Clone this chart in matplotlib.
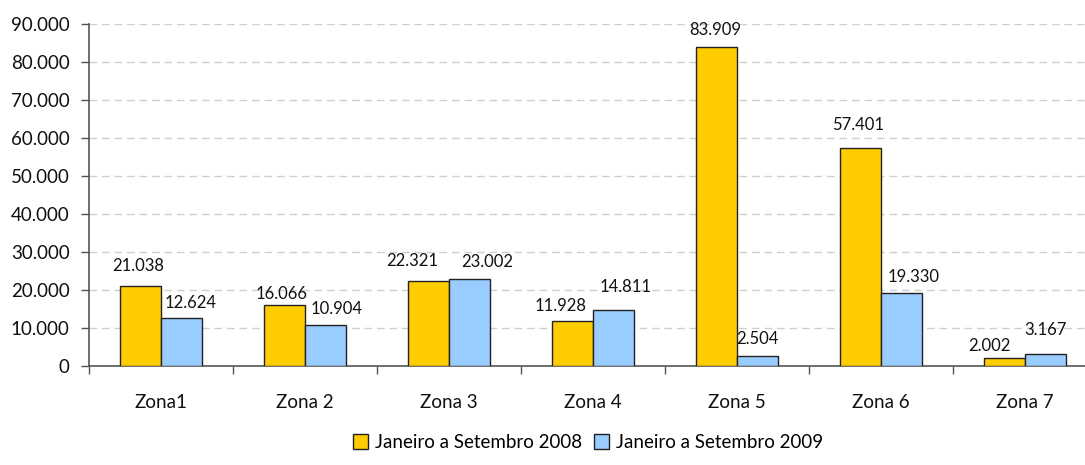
import matplotlib
matplotlib.use('Agg')
import matplotlib.pyplot as plt
import numpy as np
from matplotlib.ticker import FuncFormatter, FixedLocator

zonas = ['Zona1', 'Zona 2', 'Zona 3', 'Zona 4', 'Zona 5', 'Zona 6', 'Zona 7']
valores_2008 = [21038, 16066, 22321, 11928, 83909, 57401, 2002]
valores_2009 = [12624, 10904, 23002, 14811, 2504, 19330, 3167]
series = ['Janeiro a Setembro 2008', 'Janeiro a Setembro 2009']

# desplazamiento manual de las etiquetas (pixeles), como en el original
ajuste_2008 = [(-2, 15), (-3, 6), (-16, 15), (-12, 10), (-1, 12), (-2, 18), (-15, 7)]
ajuste_2009 = [(9, 10), (11, 11), (18, 12), (12, 18), (0, 12), (12, 11), (0, 19)]

plt.rcParams['font.family'] = ['Lato', 'DejaVu Sans']


def miles(v, pos=None):
    return f'{int(v):,}'.replace(',', '.')


fig = plt.figure(figsize=(10.85, 4.65), dpi=100)
ax = fig.add_axes([89 / 1085, 1 - 366 / 465, 1008 / 1085, 342 / 465])

x = np.arange(len(zonas))
ancho = 0.285
b1 = ax.bar(x - ancho / 2, valores_2008, ancho, color='#FFCC00', edgecolor='#222222',
            linewidth=1, label=series[0], zorder=3)
b2 = ax.bar(x + ancho / 2, valores_2009, ancho, color='#99CCFF', edgecolor='#222222',
            linewidth=1, label=series[1], zorder=3)

for barras, ajustes in ((b1, ajuste_2008), (b2, ajuste_2009)):
    for b, (dx, dy) in zip(barras, ajustes):
        ax.annotate(miles(b.get_height()), (b.get_x() + b.get_width() / 2, b.get_height()),
                    xytext=(dx, dy), textcoords='offset pixels', ha='center', va='baseline',
                    fontsize=12, color='#111111')

ax.set_xlim(-0.5, len(zonas) - 0.5)
ax.set_ylim(0, 90000)
ax.yaxis.set_major_locator(FixedLocator(np.arange(0, 90001, 10000)))
ax.yaxis.set_major_formatter(FuncFormatter(miles))
ax.grid(axis='y', color='#CFCFCF', linestyle=(0, (5.5, 3.5)), linewidth=1, zorder=0)

ax.set_xticks(x)
ax.set_xticklabels(zonas)
ax.set_xticks(np.arange(len(zonas) + 1) - 0.5, minor=True)
ax.tick_params(axis='x', which='major', length=0, pad=20, labelsize=13.5, colors='#111111')
ax.tick_params(axis='x', which='minor', length=6, color='#555555', width=1)
ax.tick_params(axis='y', length=6, width=1, color='#555555', pad=8, labelsize=13.5,
               labelcolor='#111111')

for lado in ['top', 'right']:
    ax.spines[lado].set_visible(False)
for lado in ['left', 'bottom']:
    ax.spines[lado].set_color('#555555')
    ax.spines[lado].set_linewidth(1.2)

fig.legend(handles=[b1, b2], loc='center', bbox_to_anchor=(0.542, 0.048), ncol=2,
           frameon=False, fontsize=13.5, handlelength=0.8, handleheight=0.8,
           handletextpad=0.4, columnspacing=0.6)

fig.savefig('out.png', dpi=100)
